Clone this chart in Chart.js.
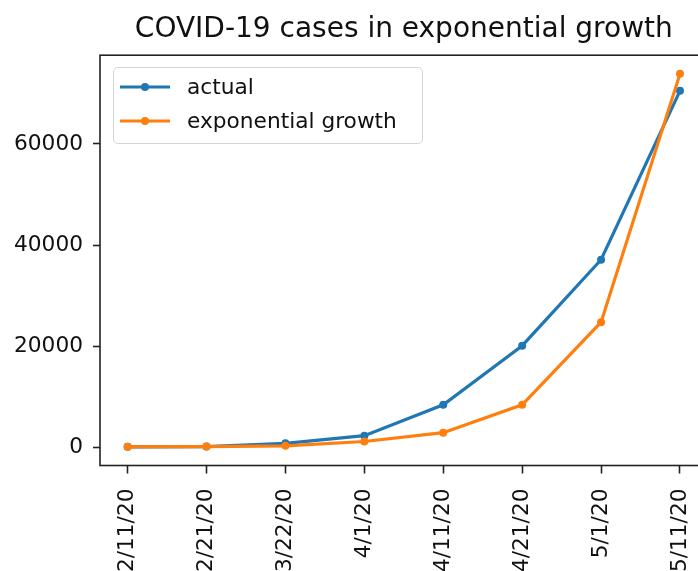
<!DOCTYPE html>
<html lang="en">
<head>
    <meta charset="UTF-8">
    <title>COVID-19 cases in exponential growth</title>
    <script src="https://cdn.jsdelivr.net/npm/chart.js@4.4.0/dist/chart.umd.min.js"></script>
    <style>
        html, body {
            margin: 0;
            padding: 0;
            background: #fff;
            overflow: hidden;
            width: 698px;
            height: 571px;
        }

        #wrap {
            position: relative;
            width: 808px;
            height: 640px;
        }

        #legend {
            position: absolute;
            left: 113px;
            top: 67px;
            width: 310px;
            height: 77px;
            box-sizing: border-box;
            border: 1px solid #d4d4d4;
            border-radius: 5px;
            background: rgba(255, 255, 255, 0.8);
            font-family: "DejaVu Sans", sans-serif;
            font-size: 21.7px;
            color: #111;
            padding-top: 2px;
        }

        .row {
            height: 34px;
            line-height: 34px;
            position: relative;
        }

        .row svg {
            position: absolute;
            left: 6px;
            top: 11px;
        }

        .row span {
            position: absolute;
            left: 73px;
            top: 0;
            white-space: nowrap;
        }
    </style>
</head>

<body>
    <div id="wrap">
        <canvas id="myChart" width="808" height="640"></canvas>
        <div id="legend"></div>
    </div>
    <script>
        // data
        const dates = ['2/11/20', '2/21/20', '3/22/20', '4/1/20', '4/11/20', '4/21/20', '5/1/20', '5/11/20'];
        const actual = [100, 150, 800, 2300, 8400, 20100, 37100, 70500];
        const expGrowth = [100, 150, 300, 1150, 2900, 8400, 24750, 73850];
        const yTicks = [0, 20000, 40000, 60000];

        const seriesNames = ['actual', 'exponential growth'];
        const colors = ['#1f77b4', '#ff7f0e'];

        function toPoints(arr) {
            return arr.map((v, i) => ({ x: i, y: v }));
        }

        const font = { family: 'DejaVu Sans', size: 21.7 };

        // axes box on all four sides, like matplotlib spines
        const frame = {
            id: 'frame',
            afterDatasetsDraw(chart) {
                const a = chart.chartArea;
                const ctx = chart.ctx;
                ctx.save();
                ctx.strokeStyle = '#222';
                ctx.lineWidth = 1.6;
                ctx.strokeRect(a.left, a.top, a.right - a.left, a.bottom - a.top);
                ctx.restore();
            }
        };

        new Chart('myChart', {
            type: 'line',
            data: {
                datasets: [{
                    label: seriesNames[0],
                    data: toPoints(actual),
                    borderColor: colors[0],
                    backgroundColor: colors[0],
                    borderWidth: 3.2,
                    pointRadius: 4,
                    pointBorderWidth: 0,
                    tension: 0,
                    order: 1
                }, {
                    label: seriesNames[1],
                    data: toPoints(expGrowth),
                    borderColor: colors[1],
                    backgroundColor: colors[1],
                    borderWidth: 3.2,
                    pointRadius: 4,
                    pointBorderWidth: 0,
                    tension: 0,
                    order: 0
                }]
            },
            options: {
                responsive: false,
                animation: false,
                events: [],
                layout: { padding: { left: 0, right: 100.4, top: 0, bottom: 0 } },
                plugins: {
                    legend: { display: false },
                    tooltip: { enabled: false },
                    title: {
                        display: true,
                        fullSize: false, // centre over the plot area only
                        text: 'COVID-19 cases in exponential growth',
                        color: '#111',
                        font: { family: 'DejaVu Sans', size: 28, weight: 'normal', lineHeight: 1.2 },
                        padding: { top: 12.5, bottom: 9.1 }
                    }
                },
                scales: {
                    x: {
                        type: 'linear',
                        min: -0.35,
                        max: dates.length - 1 + 0.35,
                        afterBuildTicks: s => { s.ticks = dates.map((d, i) => ({ value: i })); },
                        afterFit: s => { s.height = 174.5; },
                        ticks: {
                            autoSkip: false,
                            minRotation: 90,
                            maxRotation: 90,
                            padding: 15,
                            color: '#111',
                            font: font,
                            callback: v => dates[v]
                        },
                        grid: {
                            drawOnChartArea: false,
                            drawTicks: true,
                            tickLength: 8,
                            tickWidth: 1.6,
                            tickColor: '#222'
                        },
                        border: { display: false }
                    },
                    y: {
                        min: -3590,
                        max: 77540,
                        afterBuildTicks: s => { s.ticks = yTicks.map(v => ({ value: v })); },
                        afterFit: s => { s.width = 100; },
                        ticks: {
                            padding: 10,
                            color: '#111',
                            font: font,
                            callback: v => String(v)
                        },
                        grid: {
                            drawOnChartArea: false,
                            drawTicks: true,
                            tickLength: 7,
                            tickWidth: 1.6,
                            tickColor: '#222'
                        },
                        border: { display: false }
                    }
                }
            },
            plugins: [frame]
        });

        // matplotlib-like legend box
        const legend = document.getElementById('legend');
        seriesNames.forEach((name, i) => {
            const row = document.createElement('div');
            row.className = 'row';
            row.innerHTML =
                '<svg width="50" height="12"><line x1="0" y1="6" x2="50" y2="6" stroke="' + colors[i] +
                '" stroke-width="3.2"/><circle cx="25" cy="6" r="4" fill="' + colors[i] + '"/></svg>' +
                '<span>' + name + '</span>';
            legend.appendChild(row);
        });
    </script>
</body>

</html>
